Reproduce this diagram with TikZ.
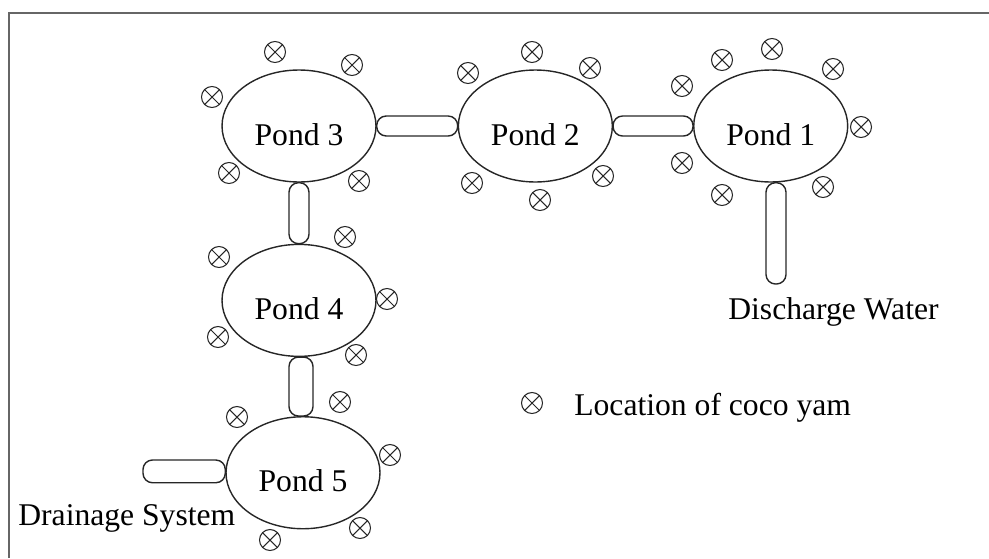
\documentclass[tikz,border=0pt]{standalone}
\usepackage{fontspec}
\setmainfont{Liberation Serif}
\usepackage{tikz}
\usetikzlibrary{positioning, calc, shapes.geometric}
\tikzstyle{pond} = [ellipse, draw=black!85, line width=0.8pt, minimum width=3.08cm, minimum height=2.24cm, text height=0.76cm, text depth=0pt, font=\fontsize{18}{21}\selectfont]
\tikzstyle{yam} = [circle, draw=black!85, line width=0.6pt, minimum size=0.42cm, inner sep=0pt, path picture={\draw[line width=0.6pt] (path picture bounding box.north west) -- (path picture bounding box.south east) (path picture bounding box.north east) -- (path picture bounding box.south west);}]
\tikzstyle{channel} = [draw=black!85, line width=0.8pt, rounded corners=0.19cm]
\tikzstyle{txt} = [inner sep=0pt, font=\fontsize{18}{21}\selectfont]
\tikzstyle{frame} = [line width=1.2pt, draw=black!60]

\begin{document}
\begin{tikzpicture}[x=0.02cm, y=-0.02cm]
\useasboundingbox (0,0) rectangle (989,558);

% Frame
\draw [frame] (9,558) -- (9,13) -- (989,13);

% Ponds
\node (p3) [pond] at (299,126) {Pond 3};
\node (p2) [pond, right=1.62cm of p3] {Pond 2};
\node (p1) [pond, right=1.6cm of p2] {Pond 1};
\node (p4) [pond, below=1.22cm of p3] {Pond 4};
\node (p5) [pond, below=1.18cm of p4, xshift=0.08cm] {Pond 5};

% Free ends
\coordinate (dis) at (776,284);
\coordinate (drain) at (143,470);

% Channels
\draw [channel] ($(p3.east)+(0,-10)$) rectangle ($(p2.west)+(0,10)$);
\draw [channel] ($(p2.east)+(0,-10)$) rectangle ($(p1.west)+(0,10)$);
\draw [channel] ($(p3.south)+(-10,0)$) rectangle ($(p4.north)+(10,0)$);
\draw [channel] ($(p4.south)+(-10,0)$) rectangle ($(p5.north)+(10,0)$);
\draw [channel] ($(p1.south -| dis)+(-10,0)$) rectangle ($(dis)+(10,0)$);
\draw [channel] ($(drain)+(0,-10)$) rectangle ($(p5.west)+(0,10)$);

% Coco yam around pond 3
\node (y31) [yam] at (275,52) {};
\node (y32) [yam] at (352,65) {};
\node (y33) [yam] at (212,97) {};
\node (y34) [yam] at (229,173) {};
\node (y35) [yam] at (359,181) {};

% Coco yam around pond 2
\node (y21) [yam] at (468,73) {};
\node (y22) [yam] at (532,52) {};
\node (y23) [yam] at (590,68) {};
\node (y24) [yam] at (472,183) {};
\node (y25) [yam] at (540,200) {};
\node (y26) [yam] at (603,176) {};

% Coco yam around pond 1
\node (y11) [yam] at (682,86) {};
\node (y12) [yam] at (722,60) {};
\node (y13) [yam] at (772,49) {};
\node (y14) [yam] at (833,69) {};
\node (y15) [yam] at (861,127) {};
\node (y16) [yam] at (823,187) {};
\node (y17) [yam] at (722,195) {};
\node (y18) [yam] at (682,163) {};

% Coco yam around pond 4
\node (y41) [yam] at (219,257) {};
\node (y42) [yam] at (345,237) {};
\node (y43) [yam] at (387,299) {};
\node (y44) [yam] at (218,337) {};
\node (y45) [yam] at (356,355) {};

% Coco yam around pond 5
\node (y51) [yam] at (237,417) {};
\node (y52) [yam] at (340,402) {};
\node (y53) [yam] at (390,455) {};
\node (y54) [yam] at (360,528) {};
\node (y55) [yam] at (270,540) {};

% Labels
\node (distext) [txt, anchor=base west] at (728,319) {Discharge Water};
\node (draintext) [txt, anchor=base west] at (18,525) {Drainage System};

% Legend
\node (legsym) [yam] at (532,403) {};
\node (legtext) [txt, anchor=base west] at (574,415) {Location of coco yam};

\end{tikzpicture}
\end{document}
